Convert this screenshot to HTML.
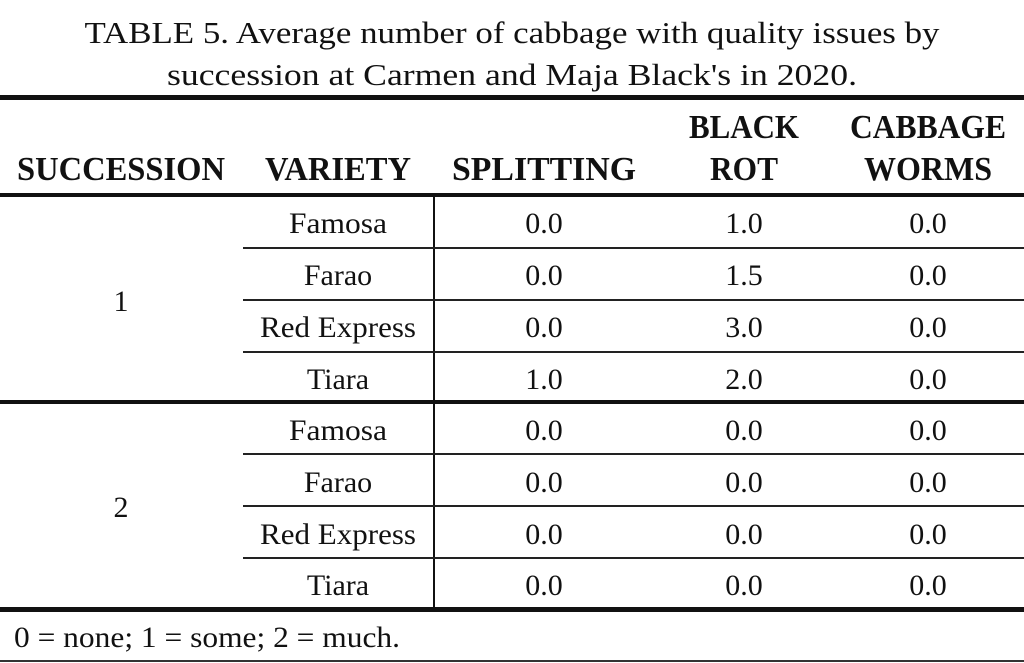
<!DOCTYPE html>
<html><head><style>
html,body{margin:0;padding:0;background:#fff;}
svg{display:block;}
text{font-family:"Liberation Serif",serif;fill:#111;}
.h{font-weight:bold;font-size:34px;}
.b{font-size:30px;}
</style></head><body>
<svg width="1024" height="663" viewBox="0 0 1024 663">
<text x="512" y="43" text-anchor="middle" font-size="31" textLength="855" lengthAdjust="spacingAndGlyphs">TABLE 5. Average number of cabbage with quality issues by</text>
<text x="512" y="85" text-anchor="middle" font-size="31" textLength="690" lengthAdjust="spacingAndGlyphs">succession at Carmen and Maja Black's in 2020.</text>
<rect x="0" y="95" width="1024" height="5" fill="#111"/>
<text class="h" x="121" y="180" text-anchor="middle" textLength="208" lengthAdjust="spacingAndGlyphs">SUCCESSION</text>
<text class="h" x="338" y="180" text-anchor="middle" textLength="146" lengthAdjust="spacingAndGlyphs">VARIETY</text>
<text class="h" x="544" y="180" text-anchor="middle" textLength="184" lengthAdjust="spacingAndGlyphs">SPLITTING</text>
<text class="h" x="744" y="138" text-anchor="middle" textLength="110" lengthAdjust="spacingAndGlyphs">BLACK</text>
<text class="h" x="744" y="180" text-anchor="middle" textLength="68" lengthAdjust="spacingAndGlyphs">ROT</text>
<text class="h" x="928" y="138" text-anchor="middle" textLength="156" lengthAdjust="spacingAndGlyphs">CABBAGE</text>
<text class="h" x="928" y="180" text-anchor="middle" textLength="128" lengthAdjust="spacingAndGlyphs">WORMS</text>
<rect x="0" y="193" width="1024" height="4" fill="#111"/>
<rect x="0" y="400" width="1024" height="4" fill="#111"/>
<rect x="0" y="607" width="1024" height="5" fill="#111"/>
<rect x="0" y="660" width="1024" height="2" fill="#333"/>
<rect x="433" y="197" width="2" height="410" fill="#111"/>
<g fill="#222">
<rect x="243" y="247" width="781" height="2"/>
<rect x="243" y="299" width="781" height="2"/>
<rect x="243" y="351" width="781" height="2"/>
<rect x="243" y="453" width="781" height="2"/>
<rect x="243" y="505" width="781" height="2"/>
<rect x="243" y="557" width="781" height="2"/>
</g>
<g>
<text class="b" x="121" y="311" text-anchor="middle">1</text>
<text class="b" x="121" y="517" text-anchor="middle">2</text>
<text class="b" x="338" y="233" text-anchor="middle" textLength="98" lengthAdjust="spacingAndGlyphs">Famosa</text>
<text class="b" x="338" y="285" text-anchor="middle">Farao</text>
<text class="b" x="338" y="337" text-anchor="middle" textLength="156" lengthAdjust="spacingAndGlyphs">Red Express</text>
<text class="b" x="338" y="389" text-anchor="middle">Tiara</text>
<text class="b" x="338" y="440" text-anchor="middle" textLength="98" lengthAdjust="spacingAndGlyphs">Famosa</text>
<text class="b" x="338" y="492" text-anchor="middle">Farao</text>
<text class="b" x="338" y="544" text-anchor="middle" textLength="156" lengthAdjust="spacingAndGlyphs">Red Express</text>
<text class="b" x="338" y="595" text-anchor="middle">Tiara</text>
<text class="b" x="544" y="233" text-anchor="middle">0.0</text>
<text class="b" x="544" y="285" text-anchor="middle">0.0</text>
<text class="b" x="544" y="337" text-anchor="middle">0.0</text>
<text class="b" x="544" y="389" text-anchor="middle">1.0</text>
<text class="b" x="544" y="440" text-anchor="middle">0.0</text>
<text class="b" x="544" y="492" text-anchor="middle">0.0</text>
<text class="b" x="544" y="544" text-anchor="middle">0.0</text>
<text class="b" x="544" y="595" text-anchor="middle">0.0</text>
<text class="b" x="744" y="233" text-anchor="middle">1.0</text>
<text class="b" x="744" y="285" text-anchor="middle">1.5</text>
<text class="b" x="744" y="337" text-anchor="middle">3.0</text>
<text class="b" x="744" y="389" text-anchor="middle">2.0</text>
<text class="b" x="744" y="440" text-anchor="middle">0.0</text>
<text class="b" x="744" y="492" text-anchor="middle">0.0</text>
<text class="b" x="744" y="544" text-anchor="middle">0.0</text>
<text class="b" x="744" y="595" text-anchor="middle">0.0</text>
<text class="b" x="928" y="233" text-anchor="middle">0.0</text>
<text class="b" x="928" y="285" text-anchor="middle">0.0</text>
<text class="b" x="928" y="337" text-anchor="middle">0.0</text>
<text class="b" x="928" y="389" text-anchor="middle">0.0</text>
<text class="b" x="928" y="440" text-anchor="middle">0.0</text>
<text class="b" x="928" y="492" text-anchor="middle">0.0</text>
<text class="b" x="928" y="544" text-anchor="middle">0.0</text>
<text class="b" x="928" y="595" text-anchor="middle">0.0</text>
</g>
<text x="14" y="647" font-size="30" textLength="386" lengthAdjust="spacingAndGlyphs">0 = none; 1 = some; 2 = much.</text>
</svg>
</body></html>
